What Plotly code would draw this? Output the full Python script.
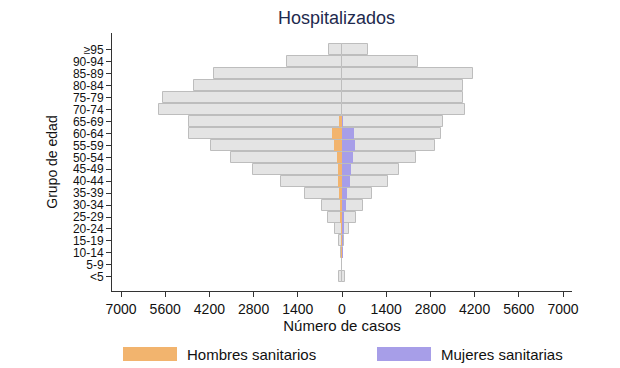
import plotly.graph_objects as go

age_groups = ["<5", "5-9", "10-14", "15-19", "20-24", "25-29", "30-34", "35-39", "40-44",
              "45-49", "50-54", "55-59", "60-64", "65-69", "70-74", "75-79", "80-84",
              "85-89", "90-94", "≥95"]
hombres_total = [110, 15, 40, 85, 210, 430, 620, 1170, 1930, 2805, 3520, 4155, 4840, 4840,
                 5800, 5675, 4685, 4040, 1750, 400]
mujeres_total = [80, 10, 30, 75, 230, 440, 675, 960, 1465, 1815, 2340, 2945, 3120, 3205,
                 3890, 3840, 3820, 4135, 2415, 810]
hombres_sanitarios = [0, 0, 5, 10, 20, 40, 60, 85, 115, 135, 150, 250, 305, 85, 0, 0, 0, 0, 0, 0]
mujeres_sanitarias = [0, 0, 5, 15, 40, 75, 115, 160, 240, 285, 350, 420, 370, 30, 0, 0, 0, 0, 0, 0]
x_ticks = [-7000, -5600, -4200, -2800, -1400, 0, 1400, 2800, 4200, 5600, 7000]
x_tick_labels = ["7000", "5600", "4200", "2800", "1400", "0", "1400", "2800", "4200", "5600", "7000"]

ypos = list(range(len(age_groups)))
gray_fill = "#E4E4E4"
gray_line = "#BDBDBD"
orange = "#F2B46E"
purple = "#A79EE8"

fig = go.Figure()
fig.add_trace(go.Bar(y=ypos, x=[-v for v in hombres_total], orientation="h", width=0.92,
                     marker=dict(color=gray_fill, line=dict(color=gray_line, width=1)),
                     showlegend=False, hoverinfo="skip"))
fig.add_trace(go.Bar(y=ypos, x=mujeres_total, orientation="h", width=0.92,
                     marker=dict(color=gray_fill, line=dict(color=gray_line, width=1)),
                     showlegend=False, hoverinfo="skip"))
fig.add_trace(go.Bar(y=ypos, x=[-v for v in hombres_sanitarios], orientation="h", width=0.92,
                     marker=dict(color=orange, line=dict(width=0)),
                     name="Hombres sanitarios", showlegend=False))
fig.add_trace(go.Bar(y=ypos, x=mujeres_sanitarias, orientation="h", width=0.92,
                     marker=dict(color=purple, line=dict(width=0)),
                     name="Mujeres sanitarias", showlegend=False))

font_family = "Liberation Sans, Arial, sans-serif"

# plot area in page pixels (reference): x 112..572, y 33..291; page body offset is 8px
fig.update_layout(
    width=620, height=368,
    barmode="overlay",
    plot_bgcolor="white", paper_bgcolor="white",
    margin=dict(l=104, r=56, t=25, b=85, autoexpand=False),
    font=dict(family=font_family, size=13, color="#111111"),
    title=dict(text="Hospitalizados", x=0.530, xanchor="center", y=0.973, yanchor="middle",
               font=dict(size=18, color="#1E2A4E", family=font_family)),
    xaxis=dict(range=[-7285, 7285], tickvals=x_ticks, ticktext=x_tick_labels,
               showgrid=False, zeroline=False, showline=True, linecolor="#333333", linewidth=1,
               ticks="outside", ticklen=5, tickcolor="#333333", automargin=False,
               title=dict(text="Número de casos", standoff=1, font=dict(size=15)),
               tickfont=dict(size=14)),
    yaxis=dict(range=[-1.2, 20.42], tickvals=ypos, ticktext=age_groups,
               showgrid=False, zeroline=False, showline=True, linecolor="#333333", linewidth=1,
               ticks="outside", ticklen=5, tickcolor="#333333", automargin=False,
               title=dict(text="Grupo de edad", standoff=11, font=dict(size=14)),
               tickfont=dict(size=12)),
    bargap=0,
)

# Legend drawn manually (wide swatches); positions relative to the plot area
fig.add_shape(type="rect", xref="paper", yref="paper",
              x0=(123 - 112) / 460, x1=(177 - 112) / 460,
              y0=(291 - 361) / 258, y1=(291 - 347) / 258,
              fillcolor=orange, line=dict(width=0))
fig.add_annotation(xref="paper", yref="paper", x=(185 - 112) / 460, y=(291 - 354) / 258,
                   text="Hombres sanitarios", showarrow=False, xanchor="left", yanchor="middle",
                   font=dict(size=15, color="#111111"))
fig.add_shape(type="rect", xref="paper", yref="paper",
              x0=(377 - 112) / 460, x1=(431 - 112) / 460,
              y0=(291 - 361) / 258, y1=(291 - 347) / 258,
              fillcolor=purple, line=dict(width=0))
fig.add_annotation(xref="paper", yref="paper", x=(439 - 112) / 460, y=(291 - 354) / 258,
                   text="Mujeres sanitarias", showarrow=False, xanchor="left", yanchor="middle",
                   font=dict(size=15, color="#111111"))

fig.write_html("out.html")
